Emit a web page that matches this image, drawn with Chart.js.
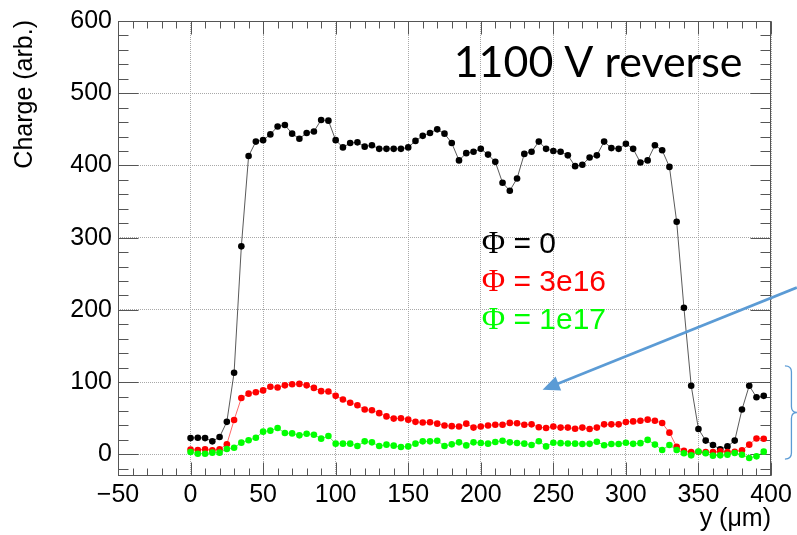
<!DOCTYPE html>
<html><head><meta charset="utf-8">
<script src="https://cdn.jsdelivr.net/npm/chart.js@4.4.0/dist/chart.umd.min.js"></script>
<style>html,body{margin:0;padding:0;background:#fff;}#wrap{width:797px;height:535px;}</style>
</head><body><div id="wrap"><canvas id="c" width="797" height="535"></canvas></div>
<script>
// ---- data ----
const positions = [
  0,5,10,15,20,25,30,35,40,45,
  50,55,60,65,70,75,80,85,90,95,
  100,105,110,115,120,125,130,135,140,145,
  150,155,160,165,170,175,180,185,190,195,
  200,205,210,215,220,225,230,235,240,245,
  250,255,260,265,270,275,280,285,290,295,
  300,305,310,315,320,325,330,335,340,345,
  350,355,360,365,370,375,380,385,390,395];
const chargePhi0 = [
  22.5,23,22.5,18,24,45,113,288,413,433,
  435,443,454,456,444,437,445,447,463,462,
  435,425,431,432,426,428,423,423,423,423,
  425,434,441,445,450,444,431,407,417,419,
  423,415,405,376,365,382,416,419,433,423,
  420,419,414,399,401,411,414,433,424,423,
  430,423,404,407,428,421,398,322,203,95,
  35,19,13,7,11,19,62,95,79,81];
const chargePhi3e16 = [
  6.5,6,7,5.5,7,14,47.5,78,84,86,
  88.5,93.5,92.5,95.5,97,97.5,95.5,92,87.5,87,
  81,76,71.5,68,62,61,57,52.5,49.5,50,
  48,45,44,44.5,42.5,40,39,38.5,42.5,37,
  38.5,40,41,41,43.5,43,41,41.5,37.5,36.5,
  38.5,37,37,35.5,37,35,37,41.5,41.5,41.5,
  44.7,45.6,46.5,48,46.5,43.3,30,10.5,5,3,
  3.5,3,3,4.1,3.2,3.5,5.5,13.4,22,21.5];
const chargePhi1e17 = [
  3.2,0.9,0.9,2.3,2.3,7.4,9.2,16.2,19.4,23,
  31.4,32.8,36.4,29.5,29,26.3,28.6,27.2,21.7,25.3,
  14.8,14.8,14.8,11.5,18,16.6,11.5,13.4,12,10.1,
  11,14.8,18,18,18.9,11.5,13.8,16.6,12.4,16.6,
  15.7,14.8,17,18.9,16.6,15.7,14.8,13,18.2,11,
  16,15.5,15,14.8,14.3,14.5,17.5,12.5,14.3,14.3,
  16,14.5,15.5,20,13.5,6,12.9,6,1.5,-1.4,
  3.9,1.5,-1.8,-1.4,-0.5,1.8,-0.5,-5.1,-2.8,3.7];
const xTickValues = [-50,0,50,100,150,200,250,300,350,400];
const yTickValues = [0,100,200,300,400,500,600];
const legendLabels = ['0','3e16','1e17'];
const titleText = '1100 V reverse';
const xTitle = 'y (\u03bcm)';
const yTitle = 'Charge (arb.)';

// ---- styling ----
const seriesColors = ['#000000','#ff0000','#00ee00'];
const lineColors = ['rgba(0,0,0,0.65)','rgba(255,0,0,0.6)','rgba(0,200,0,0.6)'];
const annoBlue = 'rgb(91,155,213)';
const sansFont = "'Liberation Sans', Arial, Helvetica, sans-serif";

function pts(arr){ return positions.map((x,i)=>({x:x, y:arr[i]})); }

function minorList(majors, n){
  const out=[];
  for(let i=0;i<majors.length-1;i++){
    const a=majors[i], b=majors[i+1];
    for(let k=0;k<n;k++) out.push(a+(b-a)*k/n);
  }
  out.push(majors[majors.length-1]);
  return out;
}

const frameTicks = {
  id:'frameTicks',
  beforeDatasetsDraw(chart){
    const {ctx, chartArea:a, scales:{x,y}} = chart;
    ctx.save();
    ctx.strokeStyle='#555'; ctx.lineWidth=1;
    const L=Math.round(a.left)+0.5, R=Math.round(a.right)-0.5, T=Math.round(a.top)+0.5, B=Math.round(a.bottom)-0.5;
    ctx.strokeRect(L,T,R-L,B-T);
    ctx.beginPath();
    for(const v of minorList(xTickValues,5)){
      const p=Math.round(x.getPixelForValue(v))+0.5;
      if(p<L||p>R+1) continue;
      const len = xTickValues.includes(v)?13:7;
      ctx.moveTo(p,B); ctx.lineTo(p,B-len);
      ctx.moveTo(p,T); ctx.lineTo(p,T+len);
    }
    const yMaj=[-100].concat(yTickValues);
    for(const v of minorList(yMaj,5)){
      if(v<y.min||v>y.max) continue;
      const p=Math.round(y.getPixelForValue(v))+0.5;
      const len = yTickValues.includes(v)?20:10;
      ctx.moveTo(L,p); ctx.lineTo(L+len,p);
      ctx.moveTo(R,p); ctx.lineTo(R-len,p);
    }
    ctx.stroke();
    ctx.restore();
  },
  afterDraw(chart){
    const {ctx, scales:{x,y}} = chart;
    ctx.save();
    ctx.fillStyle='#000';
    // axis titles
    ctx.font='25px '+sansFont;
    ctx.textAlign='right'; ctx.textBaseline='alphabetic';
    ctx.fillText(xTitle, 771, 526);
    ctx.save();
    ctx.translate(32,20); ctx.rotate(-Math.PI/2);
    ctx.fillText(yTitle,0,0);
    ctx.restore();
    // big title, fitted to measured width
    ctx.textAlign='left';
    ctx.font="43px Lato, 'Open Sans', sans-serif";
    const m=ctx.measureText(titleText);
    const ink=m.actualBoundingBoxLeft+m.actualBoundingBoxRight;
    const sx=285/ink;
    ctx.save(); ctx.translate(456.7,76.7); ctx.scale(sx,1);
    ctx.fillText(titleText, m.actualBoundingBoxLeft, 0);
    ctx.restore();
    // legend-like labels
    const baselines=[252.5,290.5,329];
    legendLabels.forEach((lab,i)=>{
      ctx.fillStyle=seriesColors[i]==='#00ee00'?'#00ff00':seriesColors[i];
      let xx=481.7;
      ctx.font="32px 'Liberation Serif', 'DejaVu Serif', serif";
      ctx.fillText('\u03a6', xx, baselines[i]);
      xx+=ctx.measureText('\u03a6').width;
      ctx.font='30px '+sansFont;
      ctx.fillText(' = '+lab, xx, baselines[i]);
    });
    // arrow (annotation in data coordinates)
    const tail=[417.8,230.9], tip=[242.6,89.3];
    const tx=x.getPixelForValue(tail[0]), ty=y.getPixelForValue(tail[1]);
    const hx=x.getPixelForValue(tip[0]), hy=y.getPixelForValue(tip[1]);
    const dx=tx-hx, dy=ty-hy, d=Math.hypot(dx,dy), ux=dx/d, uy=dy/d;
    const hl=17, hw=7.5;
    ctx.strokeStyle=annoBlue; ctx.fillStyle=annoBlue; ctx.lineWidth=2.6;
    ctx.beginPath(); ctx.moveTo(tx,ty); ctx.lineTo(hx+ux*hl*0.8, hy+uy*hl*0.8); ctx.stroke();
    const bx=hx+ux*hl, by=hy+uy*hl;
    ctx.beginPath(); ctx.moveTo(hx,hy); ctx.lineTo(bx-uy*hw, by+ux*hw); ctx.lineTo(bx+uy*hw, by-ux*hw); ctx.closePath(); ctx.fill();
    // brace
    const bTop=y.getPixelForValue(122.5), bBot=y.getPixelForValue(-6.6), bMid=(bTop+bBot)/2;
    const x0=x.getPixelForValue(409.6), x1=x0+6.5, x2=x0+12;
    ctx.lineWidth=1.3;
    ctx.beginPath();
    ctx.moveTo(x0,bTop); ctx.quadraticCurveTo(x1,bTop,x1,bTop+6);
    ctx.lineTo(x1,bMid-6); ctx.quadraticCurveTo(x1,bMid,x2,bMid);
    ctx.quadraticCurveTo(x1,bMid,x1,bMid+6);
    ctx.lineTo(x1,bBot-6); ctx.quadraticCurveTo(x1,bBot,x0,bBot);
    ctx.stroke();
    ctx.restore();
  }
};

const fmt = v => v<0 ? '\u2212'+Math.abs(v) : String(v);

new Chart(document.getElementById('c'), {
  type:'scatter',
  data:{ datasets:[
    {label:'Phi=0', data:pts(chargePhi0), showLine:true, borderColor:lineColors[0], borderWidth:1, pointRadius:3.3, pointBorderWidth:0, pointBackgroundColor:seriesColors[0], order:3},
    {label:'Phi=3e16', data:pts(chargePhi3e16), showLine:true, borderColor:lineColors[1], borderWidth:1, pointRadius:3.3, pointBorderWidth:0, pointBackgroundColor:seriesColors[1], order:2},
    {label:'Phi=1e17', data:pts(chargePhi1e17), showLine:true, borderColor:lineColors[2], borderWidth:1, pointRadius:3.3, pointBorderWidth:0, pointBackgroundColor:'#00ff00', order:1}
  ]},
  options:{
    responsive:false, animation:false, devicePixelRatio:1,
    layout:{padding:{left:0,top:20,right:26,bottom:0}},
    plugins:{legend:{display:false}, tooltip:{enabled:false}},
    elements:{line:{tension:0}},
    scales:{
      x:{type:'linear', min:-50, max:400,
        afterBuildTicks:s=>{s.ticks=xTickValues.map(v=>({value:v}));},
        afterFit:s=>{s.height=59;},
        grid:{color:'#a8a8a8', lineWidth:1, drawTicks:false},
        border:{display:false, dash:[1,1]},
        ticks:{color:'#000', font:{family:sansFont, size:25}, padding:4, maxRotation:0, autoSkip:false, callback:fmt}},
      y:{type:'linear', min:-30, max:600,
        afterBuildTicks:s=>{s.ticks=yTickValues.map(v=>({value:v}));},
        afterFit:s=>{s.width=118;},
        grid:{color:'#a8a8a8', lineWidth:1, drawTicks:false},
        border:{display:false, dash:[1,1]},
        ticks:{color:'#000', font:{family:sansFont, size:25}, padding:6, autoSkip:false, callback:fmt}}
    }
  },
  plugins:[frameTicks]
});
</script></body></html>
